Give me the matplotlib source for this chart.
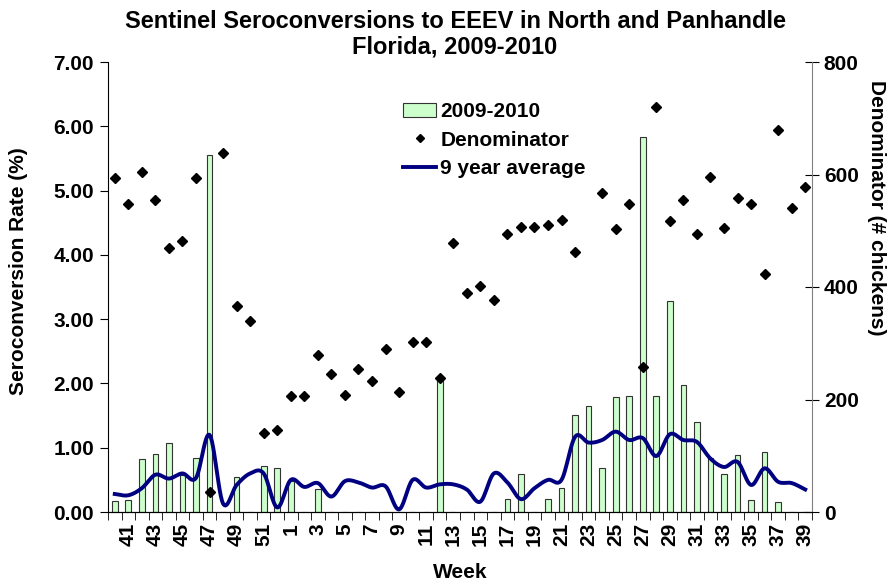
import numpy as np
import matplotlib
matplotlib.use("Agg")
import matplotlib.pyplot as plt
from matplotlib.patches import Patch
from matplotlib.lines import Line2D

plt.rcParams['font.family'] = ['Liberation Sans', 'DejaVu Sans']
plt.rcParams['font.weight'] = 'bold'

# weeks 40..52 of 2009 then 1..39 of 2010
weeks = list(range(40, 53)) + list(range(1, 40))

rate_0910 = [0.17, 0.18, 0.82, 0.90, 1.07, 0.58, 0.84, 5.55, 0, 0.55,
             0, 0.71, 0.68, 0.48, 0, 0.36, 0, 0, 0, 0,
             0, 0, 0, 0, 2.09, 0, 0, 0, 0, 0.20,
             0.59, 0, 0.20, 0.38, 1.51, 1.65, 0.69, 1.79, 1.81, 5.83,
             1.80, 3.28, 1.98, 1.40, 0.84, 0.59, 0.88, 0.18, 0.94, 0.15,
             0, 0]

denominator = [594, 547, 604, 554, 469, 481, 593, 35, 639, 366,
               340, 140, 146, 207, 207, 280, 246, 208, 255, 233,
               290, 214, 302, 303, 238, 479, 389, 401, 377, 494,
               506, 506, 510, 520, 463, np.nan, 568, 503, 548, 257,
               720, 518, 554, 495, 596, 505, 559, 547, 423, 679,
               541, 578]

avg_9yr = [0.28, 0.26, 0.37, 0.58, 0.52, 0.60, 0.53, 1.20, 0.13, 0.42,
           0.60, 0.60, 0.07, 0.50, 0.39, 0.45, 0.24, 0.48, 0.46, 0.38,
           0.40, 0.04, 0.50, 0.38, 0.43, 0.43, 0.35, 0.16, 0.60, 0.46,
           0.20, 0.37, 0.50, 0.50, 1.17, 1.08, 1.12, 1.25, 1.12, 1.15,
           0.87, 1.21, 1.12, 1.09, 0.83, 0.70, 0.78, 0.42, 0.68, 0.47,
           0.45, 0.35]

FS = 15


def smooth(xs, ys, n=12):
    # Catmull-Rom curve through the points, like Excel's smoothed line
    xs = np.asarray(xs, float)
    ys = np.asarray(ys, float)
    px = np.concatenate([[2 * xs[0] - xs[1]], xs, [2 * xs[-1] - xs[-2]]])
    py = np.concatenate([[2 * ys[0] - ys[1]], ys, [2 * ys[-1] - ys[-2]]])
    t = np.linspace(0, 1, n, endpoint=False)
    ox, oy = [], []
    for i in range(1, len(px) - 2):
        for p, o in ((px, ox), (py, oy)):
            p0, p1, p2, p3 = p[i - 1], p[i], p[i + 1], p[i + 2]
            o.extend(0.5 * (2 * p1 + (-p0 + p2) * t
                            + (2 * p0 - 5 * p1 + 4 * p2 - p3) * t ** 2
                            + (-p0 + 3 * p1 - 3 * p2 + p3) * t ** 3))
    ox.append(xs[-1])
    oy.append(ys[-1])
    return np.array(ox), np.array(oy)


x = np.arange(len(weeks))

fig = plt.figure(figsize=(8.88, 5.86), dpi=100)
ax = fig.add_axes([108 / 888, 1 - 512 / 586, 704 / 888, 450 / 586])

ax.bar(x, rate_0910, width=0.42, color='#ccffcc', edgecolor='#333333',
       linewidth=0.8, zorder=2)
sx, sy = smooth(x, avg_9yr)
ax.plot(sx, sy, color='#000080', linewidth=2.8, zorder=3)

ax.set_xlim(-0.5, len(weeks) - 0.5)
ax.set_ylim(0, 7)
ax.set_yticks(np.arange(0, 8))
ax.set_yticklabels([f"{v:.2f}" for v in range(8)])
ax.tick_params(axis='y', direction='out', length=6, labelsize=FS, pad=4)

lab_idx = [i for i, w in enumerate(weeks) if w % 2 == 1]
ax.set_xticks(lab_idx)
ax.set_xticklabels([str(weeks[i]) for i in lab_idx], rotation=90)
ax.set_xticks(np.arange(-0.5, len(weeks)), minor=True)
ax.tick_params(axis='x', which='major', length=0, labelsize=FS, pad=8)
ax.tick_params(axis='x', which='minor', length=6, direction='out')

ax.spines['top'].set_visible(False)
ax.spines['right'].set_visible(False)

ax.set_xlabel("Week", fontsize=FS, fontweight='bold')
ax.xaxis.set_label_coords(0.5, -0.113)
ax.set_ylabel("Seroconversion Rate (%)", fontsize=FS, fontweight='bold')
ax.yaxis.set_label_coords(-0.114, 0.536)

ax2 = ax.twinx()
ax2.plot(x, denominator, linestyle='none', marker='D', markersize=5.5,
         color='black', zorder=4)
ax2.set_ylim(0, 800)
ax2.set_yticks([0, 200, 400, 600, 800])
ax2.tick_params(axis='y', direction='inout', length=10, labelsize=FS)
ax2.spines['top'].set_visible(False)
ax2.spines['left'].set_visible(False)
ax2.spines['right'].set_color('#808080')
ax2.set_ylabel("Denominator (# chickens)", fontsize=FS, fontweight='bold',
               rotation=270, va='center')
ax2.yaxis.set_label_coords(1.092, 0.676)

handles = [Patch(facecolor='#ccffcc', edgecolor='#333333', linewidth=0.8),
           Line2D([], [], linestyle='none', marker='D', markersize=4.5,
                  color='black'),
           Line2D([], [], color='#000080', linewidth=2.8)]
ax2.legend(handles, ["2009-2010", "Denominator", "9 year average"],
           loc='upper left', bbox_to_anchor=(395 / 888, 1 - 94 / 586),
           bbox_transform=fig.transFigure, frameon=False,
           prop={'size': FS, 'weight': 'bold'}, handlelength=1.58,
           handletextpad=0.2, labelspacing=0.45, borderaxespad=0)

fig.text(455 / 888, 1 - 22 / 586,
         "Sentinel Seroconversions to EEEV in North and Panhandle",
         ha='center', va='center', fontsize=17, fontweight='bold')
fig.text(455 / 888, 1 - 47 / 586, "Florida, 2009-2010",
         ha='center', va='center', fontsize=17, fontweight='bold')

fig.savefig("out.png", dpi=100)
